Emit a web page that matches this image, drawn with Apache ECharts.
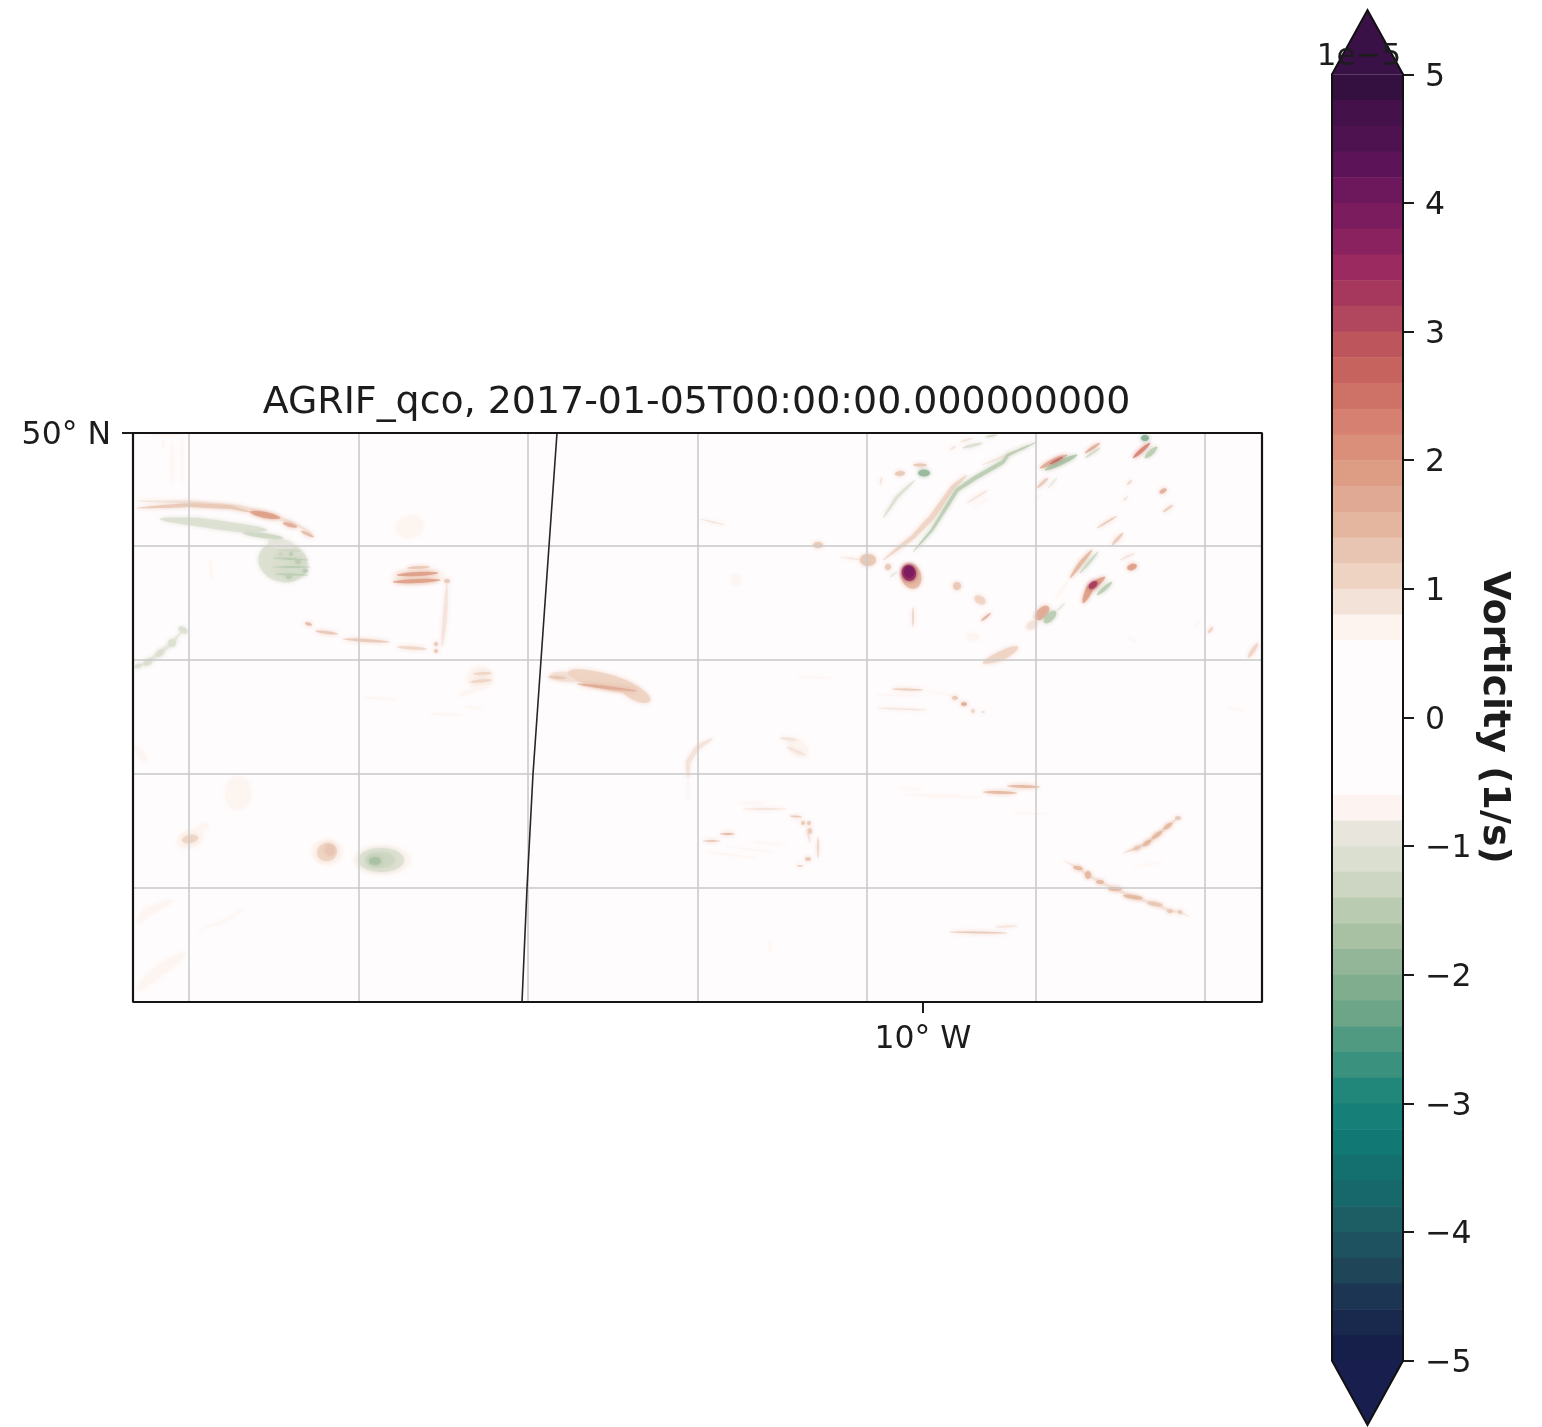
<!DOCTYPE html>
<html>
<head>
<meta charset="utf-8">
<style>html,body{margin:0;padding:0;background:#fff}#chart{width:1542px;height:1427px}</style>
<script src="https://cdn.jsdelivr.net/npm/echarts@6/dist/echarts.min.js"></script>
</head>
<body>
<div id="chart"></div>
<script>
// Axis frame: map axes are in model grid index units (i east, j south).
const titleText = 'AGRIF_qco, 2017-01-05T00:00:00.000000000';
const offsetText = '1e\u22125';
const colorbarName = 'Vorticity (1/s)';
const mapExtentI = 1129, mapExtentJ = 569;
const lonTickAt = [790], lonTickLabels = ['10° W'];
const latTickAt = [0], latTickLabels = ['50° N'];
const gridLonAt = [56, 226, 395, 565, 734, 903, 1072];
const gridLatAt = [113, 227, 341, 455];
const boundaryI = [424, 416, 408, 400, 394, 389];
const boundaryJ = [0, 113, 227, 341, 455, 569];

const cbTicks = [-5, -4, -3, -2, -1, 0, 1, 2, 3, 4, 5];
const cbStep = 0.2, cbMax = 5, cbArrowTip = 5.5;
// colour of each level, from +5 down to -5
const levelColors = ['#341041','#45114a','#4f1250','#5c1358','#6d175d','#7b1c5e','#8b2260','#9a2a5f','#a6385e','#b0475e',
 '#bc565c','#c6635f','#ce7166','#d58070','#da8f7a','#dd9c84','#e0a993','#e4b69f','#e8c5b3','#eed2c2',
 '#f3e2d8','#fdf4f0','#fffcfd','#fffcfd','#fffcfd','#fffcfd','#fffcfd','#fffcfd','#fdf3f0','#e8e5dd',
 '#dadfd0','#ccd6c2','#b9cbb0','#a8c1a3','#93b698','#80ad8e','#6ca587','#4f9a81','#3a917d','#20877a',
 '#157f78','#127874','#13706e','#17686a','#1c5e64','#1e5260','#1e4558','#1b3552','#18294d','#161f4a'];
const overColor = '#3a1147', underColor = '#181e4e';

// blobs: [vorticity(1e-5), i, j, radiusI, radiusJ, tilt degrees]
const patchBlobs = [
 [0.7,277,94,14,11,-15],[0.7,285,143,27,9,0],[0.7,347,245,13,12,0],[0.7,105,360,13,17,0],
 [0.7,57,406,14,9,-20],[1.05,57,406,8,4,-10],[0.7,69,395,7,4,-30],
 [0.7,194,419,16,13,0],[1.05,194,419,10,9,-20],[1.3,197,417,5,6,-20],
 [0.7,249,427,29,15,0],[-1.0,248,427,23,12,0],[-1.3,247,427,15,8,0],[-1.7,242,428,6,4,0],
 [0.7,603,147,5,6,0],[0.7,665,315,12,8,40],[-1.1,150,129,25,20,15],[-0.9,148,111,13,5,10],
 [0.9,434,244,17,5,5],[1.05,470,248,36,8,14],[1.05,502,260,17,7,28],[0.7,840,204,6,4,0]];
// streaks: [vorticity(1e-5), width, i1, j1, i2, j2, ...]
const westStreaks = [
 [0.9,4,4,68,57,69,107,74,144,84,164,92,179,100],
 [1.3,4,4,75,57,72,97,74,117,79],
 [1.9,6,117,79,147,85],[1.8,4,150,90,164,94],[1.6,3,168,98,181,104],
 [-1.1,9,27,86,64,89,107,95,134,97],[-1.2,5,110,100,150,105],
 [-1.4,2,140,125,175,127],[-1.4,2,140,134,177,134],[-1.4,2,142,141,175,142],[-1.3,2,145,117,168,118],
 [0.8,2,17,2,50,2],[0.8,2,39,7,39,53],[0.7,2,49,3,49,50],[0.8,2,30,7,30,16],
 [0.7,2,77,125,79,147],
 [1.9,4,264,142,305,140],[1.9,4,260,149,307,147],[1.4,3,274,135,297,134],
 [1.0,4,314,150,312,184,309,214],
 [1.5,3,172,190,179,192],[1.4,3,182,198,205,201],[1.2,3,210,206,257,209],[1.1,3,264,214,294,216],
 [-0.9,4,2,235,15,229,27,220,39,210,50,197],
 [1.1,3,337,249,359,247],[1.1,3,340,241,359,240],[0.8,4,325,262,344,257],
 [0.8,2,230,265,264,266],[0.8,2,330,274,350,276],[0.8,2,297,281,330,282],
 [0.7,8,4,490,14,479,40,467],[0.7,11,4,557,27,537,52,520],[0.7,6,2,314,14,329],
 [0.7,2,65,497,90,489,114,474]];
const northEastStreaks = [
 [1.1,5,750,127,780,104,799,84,820,54,834,42],[0.9,2,849,32,867,25,904,9],
 [-1.4,4,780,119,799,97,824,57,842,45,870,29,875,22,904,9],
 [-1.1,3,750,85,764,64,782,47],[1.0,2,747,52,749,44],
 [1.2,5,762,41,772,40],[1.3,3,780,32,794,32],[-1.8,7,785,40,797,40],
 [-1.0,3,829,15,850,10],[-1.2,2,852,4,864,2],[0.9,2,827,9,840,5],[0.9,2,817,17,823,13],
 [0.9,2,834,70,855,57],[0.8,1.5,840,75,858,64],
 [-0.9,2,757,144,764,139],[1.1,2,780,174,780,194],[1.7,2,848,188,858,180],
 [1.05,9,850,230,870,222,885,214],
 [0.8,2,922,167,937,145],[1.5,4,937,145,948,130,959,117],[-1.3,3,947,140,965,119],
 [2.0,7,950,170,957,155,972,144],[-1.6,4,964,162,979,149],[-0.9,2,924,178,932,170],
 [0.9,2,987,127,1002,120],[1.8,5,907,35,934,22],[-1.7,5,912,37,944,22],[2.6,2,917,31,930,24],
 [1.4,3,904,55,915,45],[-0.9,2,915,55,924,45],
 [1.8,3,952,20,967,10],[-1.2,2,952,25,967,15],[2.4,4,1000,25,1017,10],[-1.5,5,1012,25,1024,14],
 [1.3,2,964,95,984,83],[1.2,3,979,112,990,100],[1.1,2,994,52,999,47],[1.0,2,990,68,995,63],
 [1.2,2,1030,79,1040,72],[1.1,4,1115,225,1125,210],[1.1,3,1075,200,1080,194],[0.8,1.5,994,204,1004,209],
 [0.8,1.5,900,68,908,62],[0.7,1.5,1060,195,1068,187]];
const centralStreaks = [
 [1.7,3,444,251,470,254,504,258],[1.3,3,415,244,434,245],
 [0.9,5,580,305,564,315,555,329,555,345],[0.8,2,555,345,555,370],
 [1.0,3,647,305,664,307],[1.0,3,654,314,672,322],[0.7,1.5,664,244,700,245],[0.9,1.5,567,86,592,92],
 [1.5,2,587,401,602,401],[1.3,2,570,408,587,408],[0.8,2,605,370,632,370],[0.9,2,610,376,654,376],
 [1.3,2,657,383,669,384],[1.1,2,685,404,685,425],[0.9,2,674,395,677,410],
 [0.8,1.5,617,409,654,412],[0.8,1.5,594,414,640,419],[0.8,1.5,574,419,624,425],
 [0.7,1.5,637,505,637,520],[1.0,1.5,707,124,730,127],
 [1.2,2,759,256,790,257],[0.7,1.5,790,257,824,264],[0.7,1.5,744,262,790,263],[0.9,1.5,744,275,794,277]];
const southEastStreaks = [
 [1.5,3,850,359,884,360],[1.6,3,874,353,907,354],[0.8,2,770,362,850,364],[0.7,1.5,765,355,790,356],
 [0.8,1.5,880,380,915,381],[1.2,2,817,499,874,500],[1.0,2,862,494,885,493],
 [1.05,3,990,420,1004,415,1014,410,1024,402,1035,393,1045,385],
 [1.0,3,930,427,945,435,955,442,967,449,982,456,1000,464,1022,471,1037,478,1047,479,1057,484],
 [0.7,1.5,1094,274,1112,279],[0.8,1.5,1000,434,1030,429]];
// small strong cells, drawn on top
const coreBlobs = [
 [1.4,735,127,8,6,0],[1.5,778,143,10,13,-20],[3.5,776,140,7,8,-15],[4.0,776,139,5,6,0],
 [1.3,685,112,5,3,0],[1.2,755,134,3,3,0],[1.4,824,153,4,4,0],[1.05,847,167,6,4,30],
 [1.7,909,180,9,5,-45],[-1.6,917,184,8,4,-45],[1.0,899,192,6,4,-30],
 [3.2,960,152,5,3,-40],[1.9,999,134,5,3,-20],[1.7,1030,58,4,2,-30],[-2.1,1012,5,4,3,0],
 [1.4,314,148,3,2,0],[1.3,303,211,2,2,0],[1.3,303,218,2,2,0],
 [-1.1,15,229,5,3,-35],[-1.1,27,220,5,3,-40],[-1.1,39,210,4,4,-45],[-1.0,50,197,3,5,-60],[-1.0,5,233,4,2,-20],
 [-1.3,148,121,3,2,0],[-1.5,158,121,2,2,0],[-1.5,165,129,3,2,0],[-1.5,172,138,3,2,0],[-1.4,156,144,3,2,0],
 [1.4,822,265,3,2,0],[1.7,831,271,3,2,0],[1.1,840,278,2,2,0],[1.0,850,279,2,1,0],
 [1.3,670,390,2,2,0],[1.3,676,390,2,2,0],[1.2,677,398,2,3,0],[1.3,675,426,3,2,0],[1.1,667,433,3,1,0],
 [1.4,1004,415,4,2,-20],[1.5,1014,410,5,2,-35],[1.6,1024,402,6,2,-35],[1.5,1035,393,5,2,-35],[1.3,1045,385,3,2,0],
 [1.5,945,435,5,2,10],[1.6,955,442,3,4,0],[1.6,967,449,4,2,0],[1.6,982,456,7,2,0],[1.5,1000,464,10,2,8],
 [1.4,1022,471,8,2,10],[1.4,1037,478,3,2,0],[1.3,1047,479,2,2,0]];

function levelColor(v) {
  const k = Math.max(0, Math.min(levelColors.length - 1, Math.floor((cbMax - v) / cbStep)));
  return levelColors[k];
}
function softStyle(v) {
  const c = levelColor(v);
  return { fill: c, stroke: null, opacity: 0.85, shadowBlur: 4, shadowColor: c };
}
function blobSeries(list, z) {
  return {
    type: 'custom', xAxisIndex: 0, yAxisIndex: 0, z, clip: true, silent: true,
    data: list.map(b => [b[1], b[2]]),
    renderItem(params, api) {
      const [v, cx, cy, rx, ry, tilt] = list[params.dataIndex];
      const t = tilt * Math.PI / 180, pts = [];
      for (let a = 0; a < 28; a++) {
        const q = a / 28 * 2 * Math.PI, ex = rx * Math.cos(q), ey = ry * Math.sin(q);
        pts.push(api.coord([cx + ex * Math.cos(t) - ey * Math.sin(t), cy + ex * Math.sin(t) + ey * Math.cos(t)]));
      }
      return { type: 'polygon', shape: { points: pts, smooth: 0 }, style: softStyle(v) };
    }
  };
}
function streakSeries(list, z) {
  return {
    type: 'custom', xAxisIndex: 0, yAxisIndex: 0, z, clip: true, silent: true,
    data: list.map(s => [s[2], s[3]]),
    renderItem(params, api) {
      const s = list[params.dataIndex], v = s[0], w = s[1], path = [];
      for (let k = 2; k < s.length; k += 2) path.push(api.coord([s[k], s[k + 1]]));
      const samples = [];
      for (let k = 0; k < path.length - 1; k++) {
        for (let u = 0; u < 8; u++) {
          samples.push([path[k][0] + (path[k + 1][0] - path[k][0]) * u / 8, path[k][1] + (path[k + 1][1] - path[k][1]) * u / 8]);
        }
      }
      samples.push(path[path.length - 1]);
      const n = samples.length, left = [], right = [];
      for (let k = 0; k < n; k++) {
        const p0 = samples[Math.max(0, k - 1)], p1 = samples[Math.min(n - 1, k + 1)];
        const dx = p1[0] - p0[0], dy = p1[1] - p0[1], len = Math.hypot(dx, dy) || 1;
        const half = w / 2 * Math.pow(Math.sin(Math.PI * (k + 0.15) / (n - 0.7)), 0.55);
        left.push([samples[k][0] - dy / len * half, samples[k][1] + dx / len * half]);
        right.push([samples[k][0] + dy / len * half, samples[k][1] - dx / len * half]);
      }
      return { type: 'polygon', shape: { points: left.concat(right.reverse()) }, style: softStyle(v) };
    }
  };
}
const tickMinus = v => String(v).replace('-', '\u2212');
const textBlack = '#1c1c1c';
const gridLineStyle = { color: '#c9c9c9', width: 1.5, type: 'solid' };
const tickFont = { color: textBlack, fontFamily: 'DejaVu Sans', fontSize: 31.5 };

const option = {
  animation: false,
  backgroundColor: '#ffffff',
  title: [
    { text: titleText, left: 691.5, top: 379, textAlign: 'center',
      textStyle: { fontFamily: 'DejaVu Sans', fontWeight: 'normal', fontSize: 37.9, color: textBlack } },
    { text: offsetText, left: 1354, top: 36, textAlign: 'center', z: 20,
      textStyle: { fontFamily: 'DejaVu Sans', fontWeight: 'normal', fontSize: 31, color: textBlack } }
  ],
  grid: [
    { left: 133, top: 433, width: 1129, height: 569, show: true, backgroundColor: '#fffcfd', borderWidth: 0 },
    { left: 1332, top: 10, width: 71, height: 1415, show: false }
  ],
  xAxis: [
    { type: 'value', gridIndex: 0, position: 'bottom', min: 0, max: mapExtentI, splitLine: { show: false },
      axisLine: { show: false, onZero: false },
      axisTick: { show: true, customValues: lonTickAt, length: 11, lineStyle: { color: textBlack, width: 2 } },
      axisLabel: Object.assign({ show: true, customValues: lonTickAt, margin: 22,
        formatter: v => lonTickLabels[lonTickAt.indexOf(v)] }, tickFont) },
    { type: 'value', gridIndex: 1, min: 0, max: 1, show: false }
  ],
  yAxis: [
    { type: 'value', gridIndex: 0, inverse: true, min: 0, max: mapExtentJ, splitLine: { show: false },
      axisLine: { show: false, onZero: false },
      axisTick: { show: true, customValues: latTickAt, length: 11, lineStyle: { color: textBlack, width: 2 } },
      axisLabel: Object.assign({ show: true, customValues: latTickAt, margin: 22, verticalAlign: 'top', lineHeight: 6,
        formatter: v => latTickLabels[latTickAt.indexOf(v)] }, tickFont) },
    { type: 'value', gridIndex: 1, position: 'right', min: -cbArrowTip, max: cbArrowTip, splitLine: { show: false },
      axisLine: { show: false, onZero: false },
      axisTick: { show: true, customValues: cbTicks, length: 11, lineStyle: { color: textBlack, width: 2 } },
      axisLabel: Object.assign({ show: true, customValues: cbTicks, margin: 22, verticalAlign: 'top', lineHeight: 6,
        formatter: v => tickMinus(v) }, tickFont),
      name: colorbarName, nameLocation: 'middle', nameRotate: -90, nameGap: 68,
      nameTextStyle: { fontFamily: 'DejaVu Sans', fontWeight: 'bold', fontSize: 38, color: textBlack } }
  ],
  series: [
    blobSeries(patchBlobs, 2),
    streakSeries(westStreaks, 3),
    streakSeries(centralStreaks, 3),
    streakSeries(northEastStreaks, 3),
    streakSeries(southEastStreaks, 3),
    blobSeries(coreBlobs, 4),
    { type: 'line', xAxisIndex: 0, yAxisIndex: 0, z: 5, silent: true, symbol: 'none', data: [],
      markLine: { silent: true, symbol: 'none', label: { show: false }, lineStyle: gridLineStyle, animation: false,
        data: gridLonAt.map(v => ({ xAxis: v })).concat(gridLatAt.map(v => ({ yAxis: v }))) } },
    { type: 'line', xAxisIndex: 0, yAxisIndex: 0, z: 6, silent: true, symbol: 'none', smooth: false,
      lineStyle: { color: '#262626', width: 1.6 }, data: boundaryI.map((v, k) => [v, boundaryJ[k]]) },
    { type: 'line', xAxisIndex: 0, yAxisIndex: 0, z: 7, silent: true, symbol: 'none', clip: false,
      lineStyle: { color: '#141414', width: 2.2 },
      data: [[0, 0], [mapExtentI, 0], [mapExtentI, mapExtentJ], [0, mapExtentJ], [0, 0]] },
    // colour bar levels
    { type: 'custom', xAxisIndex: 1, yAxisIndex: 1, z: 2, silent: true,
      data: levelColors.map((c, k) => [0, cbMax - k * cbStep]),
      renderItem(params, api) {
        const k = params.dataIndex;
        const a = api.coord([0, cbMax - k * cbStep]), b = api.coord([1, cbMax - (k + 1) * cbStep]);
        return { type: 'rect', shape: { x: a[0], y: a[1], width: b[0] - a[0], height: b[1] - a[1] + 0.5 },
          style: { fill: levelColors[k] } };
      } },
    // colour bar extension arrows and outline
    { type: 'custom', xAxisIndex: 1, yAxisIndex: 1, z: 3, silent: true, clip: false,
      data: [[0.5, cbArrowTip]],
      renderItem(params, api) {
        const P = (x, y) => api.coord([x, y]);
        return { type: 'group', children: [
          { type: 'polygon', shape: { points: [P(0, cbMax), P(0.5, cbArrowTip), P(1, cbMax)] }, style: { fill: overColor } },
          { type: 'polygon', shape: { points: [P(0, -cbMax), P(0.5, -cbArrowTip), P(1, -cbMax)] }, style: { fill: underColor } },
          { type: 'polygon', shape: { points: [P(0, -cbMax), P(0, cbMax), P(0.5, cbArrowTip), P(1, cbMax), P(1, -cbMax), P(0.5, -cbArrowTip)] },
            style: { fill: null, stroke: '#111', lineWidth: 2 } }
        ] };
      } }
  ]
};
const chart = echarts.init(document.getElementById('chart'), null, { renderer: 'canvas' });
chart.setOption(option);
</script>
</body>
</html>
